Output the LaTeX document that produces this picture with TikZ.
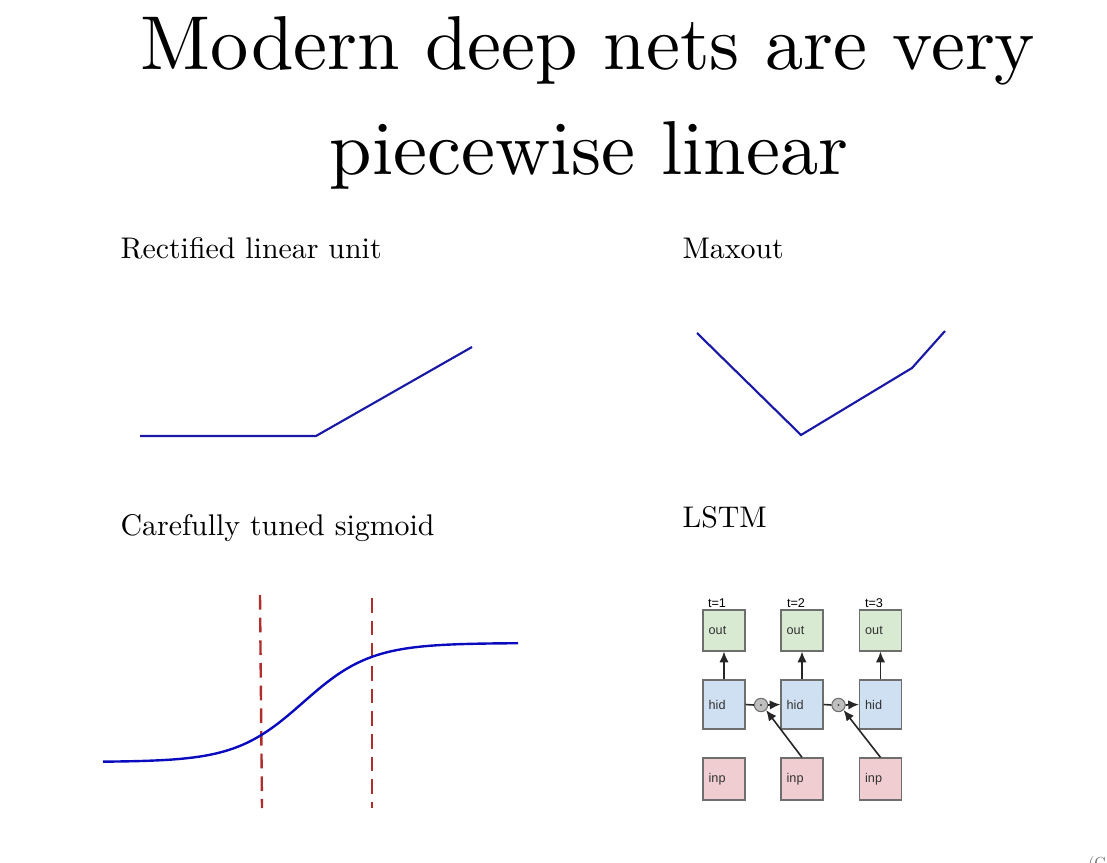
\documentclass[tikz,border=0pt]{standalone}
\usepackage{fontspec}
\newfontfamily\lstmfont{Liberation Sans}
\usetikzlibrary{arrows.meta}
\definecolor{curveblue}{RGB}{25,25,165}
\definecolor{sigblue}{RGB}{10,10,190}
\definecolor{dashred}{RGB}{175,45,45}
\definecolor{outgreen}{RGB}{217,234,211}
\definecolor{hidblue}{RGB}{207,224,243}
\definecolor{inppink}{RGB}{240,205,208}
\definecolor{boxedge}{RGB}{110,110,110}
\tikzset{
  title/.style={anchor=base, font=\fontsize{10}{12}\selectfont, scale=5.73, inner sep=0pt},
  panel/.style={anchor=base west, font=\fontsize{10}{12}\selectfont, scale=2.24, inner sep=0pt},
  plotline/.style={draw=curveblue, line width=1.6pt},
  sigline/.style={draw=sigblue, line width=1.8pt},
  redline/.style={draw=dashred, line width=1.8pt, dash pattern=on 11pt off 6pt},
  cell/.style={draw=boxedge, line width=0.9pt, font=\lstmfont\fontsize{9.5}{11}\selectfont,
    text=black!80, align=left, text width=23pt, inner xsep=4.25pt, minimum width=31.5pt},
  outbox/.style={cell, fill=outgreen, minimum height=30.75pt},
  hidbox/.style={cell, fill=hidblue, minimum height=36.75pt},
  inpbox/.style={cell, fill=inppink, minimum height=31.5pt},
  tlabel/.style={font=\lstmfont\fontsize{9.5}{11}\selectfont, inner sep=0pt},
  gate/.style={circle, draw=boxedge, fill=black!25, line width=0.8pt, minimum size=10pt, inner sep=0pt},
  conn/.style={draw=black!85, line width=1.2pt},
  arr/.style={conn, -{Latex[length=8pt,width=7pt]}},
}
\begin{document}
\begin{tikzpicture}[x=0.75pt, y=-0.75pt]
\useasboundingbox (0,0) rectangle (1107,863);
\clip (0,0) rectangle (1107,863);
% titles
\node[title] (t1) at (588,70) {Modern deep nets are very};
\node[title] (t2) at (589,175) {piecewise linear};
% panel labels
\node[panel] (l1) at (120,258) {Rectified linear unit};
\node[panel] (l2) at (682,258) {Maxout};
\node[panel] (l3) at (120,535) {Carefully tuned sigmoid};
\node[panel] (l4) at (682,527) {LSTM};
% ReLU
\draw[plotline] (140,436) -- (316,436) -- (472,347);
% Maxout
\draw[plotline, line join=miter] (697,333) -- (801,435) -- (912,368) -- (945,331);
% Sigmoid
\draw[redline] (260,595) -- (262,808);
\draw[redline] (372,598) -- (372,808);
\draw[sigline] plot[domain=103:518, samples=150, smooth] (\x, {762 - 119/(1+exp(-(\x-303)/34))});
% LSTM
\foreach \i/\cx in {1/724, 2/802, 3/880.5} {
  \node[outbox] (out\i) at (\cx,630.5) {out};
  \node[hidbox] (hid\i) at (\cx,704.5) {hid};
  \node[inpbox] (inp\i) at (\cx,779) {inp};
  \draw[arr] (hid\i.north) -- (out\i.south);
}
\node[tlabel] (tl1) at (717,603) {t=1};
\node[tlabel] (tl2) at (796,603) {t=2};
\node[tlabel] (tl3) at (874,603) {t=3};
\node[gate] (g1) at (761,705) {};
\node[gate] (g2) at (838.5,705) {};
\fill[black!70] (g1) circle (0.9pt);
\fill[black!70] (g2) circle (0.9pt);
\draw[conn] (hid1.east) -- (g1.west);
\draw[arr] (g1.east) -- (hid2.west);
\draw[conn] (hid2.east) -- (g2.west);
\draw[arr] (g2.east) -- (hid3.west);
\draw[arr] (inp2.north) -- (g1.south east);
\draw[arr] (inp3.north) -- (g2.south east);
% cut-off source note
\node[anchor=base west, font=\fontsize{12}{14}\selectfont, text=black!60, inner sep=0pt] (src) at (1088,868) {(Goodfellow 2016)};
\end{tikzpicture}
\end{document}
